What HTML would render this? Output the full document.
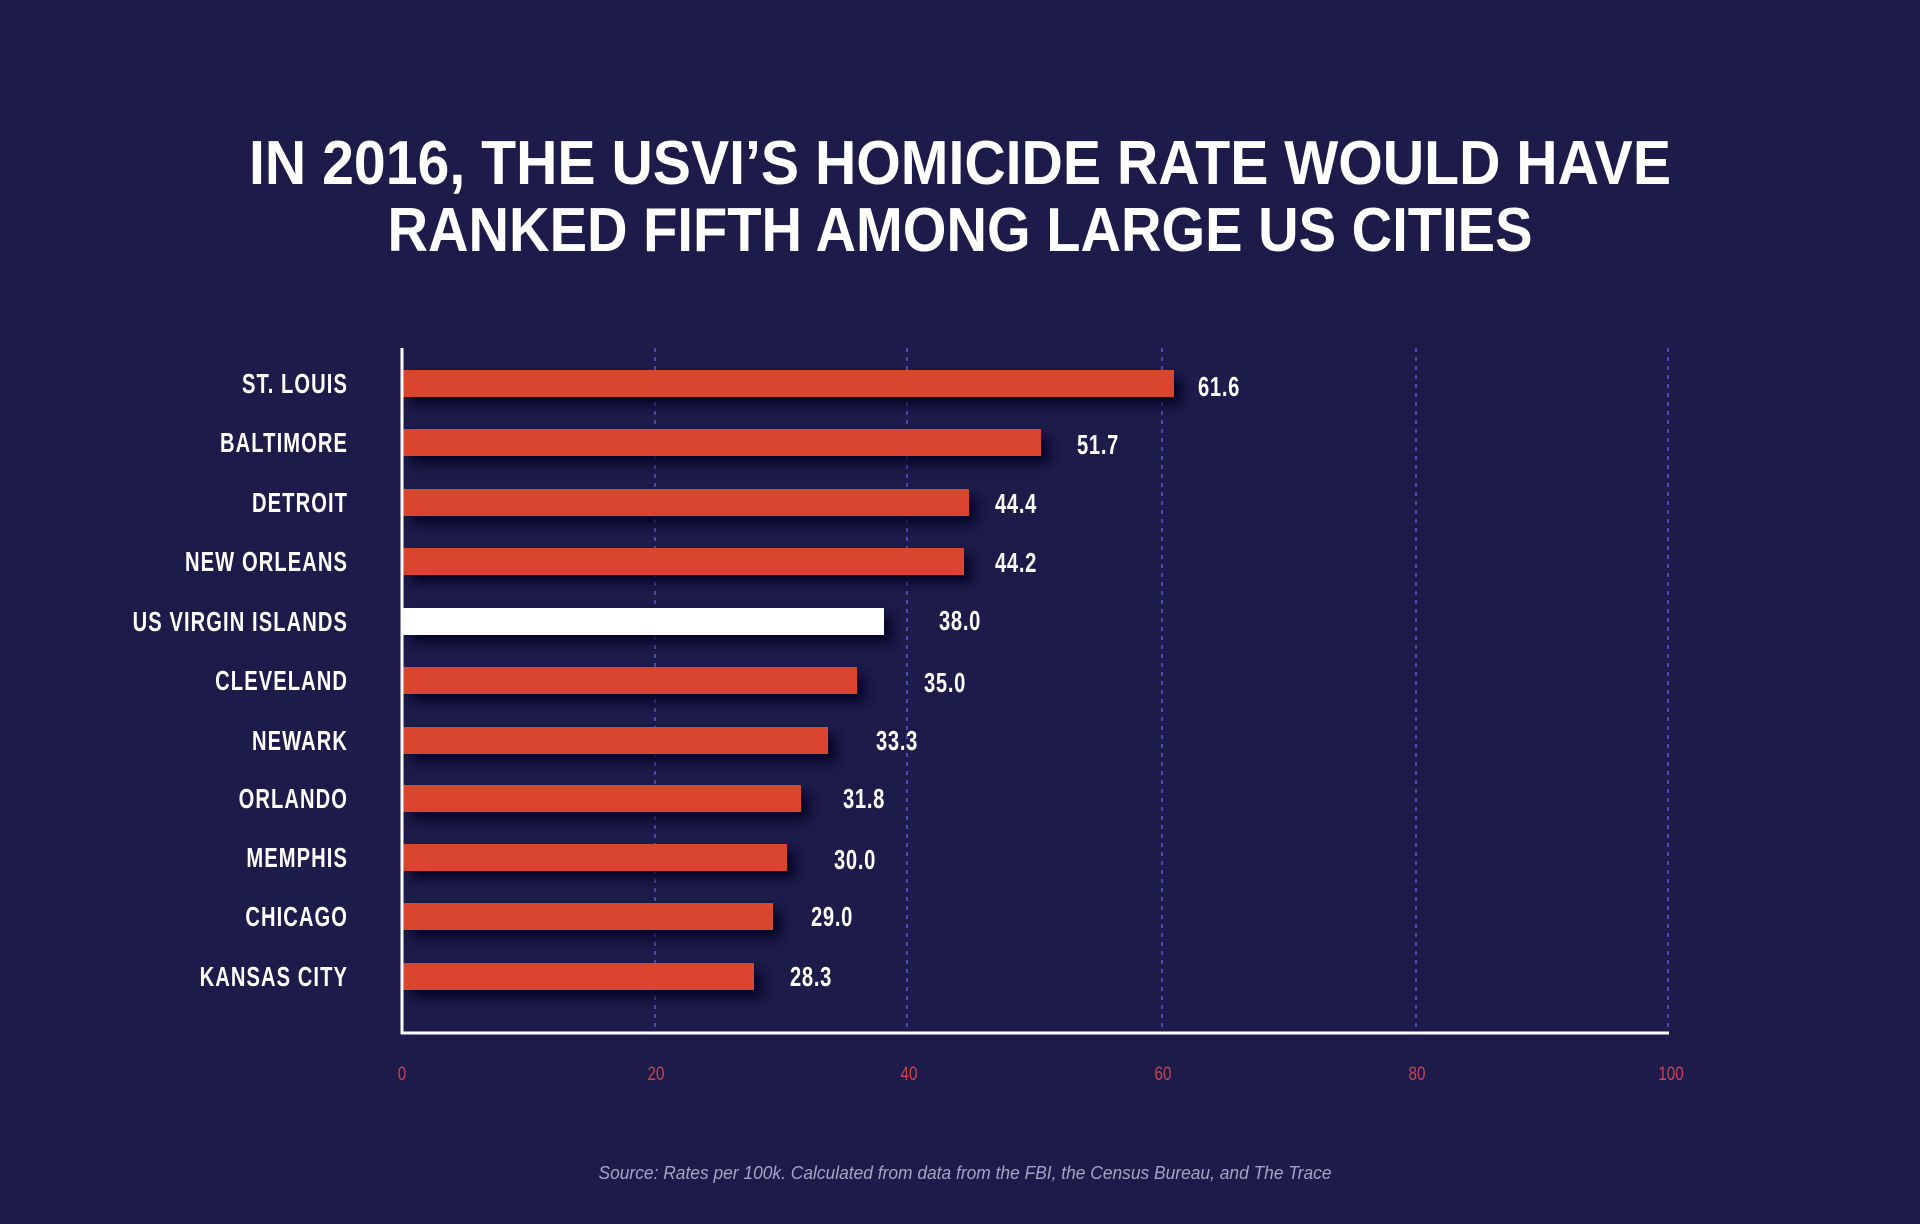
<!DOCTYPE html>
<html><head><meta charset="utf-8"><style>
html,body{margin:0;padding:0;background:#1c1b4a;}
svg{display:block;}
text{font-family:"Liberation Sans",sans-serif;}
</style></head><body>
<svg width="1920" height="1224" viewBox="0 0 1920 1224" xmlns="http://www.w3.org/2000/svg">
<defs>
<filter id="sh" x="-5%" y="-50%" width="115%" height="250%">
<feDropShadow dx="8" dy="8" stdDeviation="6" flood-color="#05051a" flood-opacity="0.85"/>
</filter>
</defs>
<rect width="1920" height="1224" fill="#1c1b4a"/>
<text x="960" y="184" text-anchor="middle" font-size="62" font-weight="bold" fill="#fff" textLength="1422" lengthAdjust="spacingAndGlyphs">IN 2016, THE USVI’S HOMICIDE RATE WOULD HAVE</text>
<text x="960" y="251" text-anchor="middle" font-size="62" font-weight="bold" fill="#fff" textLength="1145" lengthAdjust="spacingAndGlyphs">RANKED FIFTH AMONG LARGE US CITIES</text>
<g stroke="#4a4ab8" stroke-width="2" stroke-dasharray="4,5">
<line x1="655" y1="348" x2="655" y2="1032"/>
<line x1="907" y1="348" x2="907" y2="1032"/>
<line x1="1162" y1="348" x2="1162" y2="1032"/>
<line x1="1416" y1="348" x2="1416" y2="1032"/>
<line x1="1668" y1="348" x2="1668" y2="1032"/>
</g>
<g filter="url(#sh)">
<rect x="403" y="370" width="771" height="27" fill="#d9442e"/>
<rect x="403" y="429" width="638" height="27" fill="#d9442e"/>
<rect x="403" y="489" width="566" height="27" fill="#d9442e"/>
<rect x="403" y="548" width="561" height="27" fill="#d9442e"/>
<rect x="403" y="608" width="481" height="27" fill="#ffffff"/>
<rect x="403" y="667" width="454" height="27" fill="#d9442e"/>
<rect x="403" y="727" width="425" height="27" fill="#d9442e"/>
<rect x="403" y="785" width="398" height="27" fill="#d9442e"/>
<rect x="403" y="844" width="384" height="27" fill="#d9442e"/>
<rect x="403" y="903" width="370" height="27" fill="#d9442e"/>
<rect x="403" y="963" width="351" height="27" fill="#d9442e"/>
</g>
<line x1="402" y1="348" x2="402" y2="1034" stroke="#fff" stroke-width="3"/>
<line x1="401" y1="1033" x2="1669" y2="1033" stroke="#fff" stroke-width="3"/>
<g transform="translate(348,0) scale(0.72,1)" font-size="28" font-weight="bold" fill="#fff" text-anchor="end" letter-spacing="1.5">
<text x="0" y="393">ST. LOUIS</text>
<text x="0" y="452">BALTIMORE</text>
<text x="0" y="512">DETROIT</text>
<text x="0" y="571">NEW ORLEANS</text>
<text x="0" y="631">US VIRGIN ISLANDS</text>
<text x="0" y="690">CLEVELAND</text>
<text x="0" y="750">NEWARK</text>
<text x="0" y="808">ORLANDO</text>
<text x="0" y="867">MEMPHIS</text>
<text x="0" y="926">CHICAGO</text>
<text x="0" y="986">KANSAS CITY</text>
</g>
<g font-size="28" font-weight="bold" fill="#fff" letter-spacing="1">
<text transform="translate(1198,396) scale(0.72,1)">61.6</text>
<text transform="translate(1077,454) scale(0.72,1)">51.7</text>
<text transform="translate(995,513) scale(0.72,1)">44.4</text>
<text transform="translate(995,572) scale(0.72,1)">44.2</text>
<text transform="translate(939,630) scale(0.72,1)">38.0</text>
<text transform="translate(924,692) scale(0.72,1)">35.0</text>
<text transform="translate(876,750) scale(0.72,1)">33.3</text>
<text transform="translate(843,808) scale(0.72,1)">31.8</text>
<text transform="translate(834,869) scale(0.72,1)">30.0</text>
<text transform="translate(811,926) scale(0.72,1)">29.0</text>
<text transform="translate(790,986) scale(0.72,1)">28.3</text>
</g>
<g font-size="19" fill="#c8464e" text-anchor="middle">
<text transform="translate(402,1080) scale(0.8,1)">0</text>
<text transform="translate(656,1080) scale(0.8,1)">20</text>
<text transform="translate(909,1080) scale(0.8,1)">40</text>
<text transform="translate(1163,1080) scale(0.8,1)">60</text>
<text transform="translate(1417,1080) scale(0.8,1)">80</text>
<text transform="translate(1671,1080) scale(0.8,1)">100</text>
</g>
<text x="965" y="1179" text-anchor="middle" font-size="18" font-style="italic" fill="#a4a4c4" textLength="733" lengthAdjust="spacingAndGlyphs">Source:  Rates per 100k. Calculated from data from the FBI, the Census Bureau, and The Trace</text>
</svg>
</body></html>
